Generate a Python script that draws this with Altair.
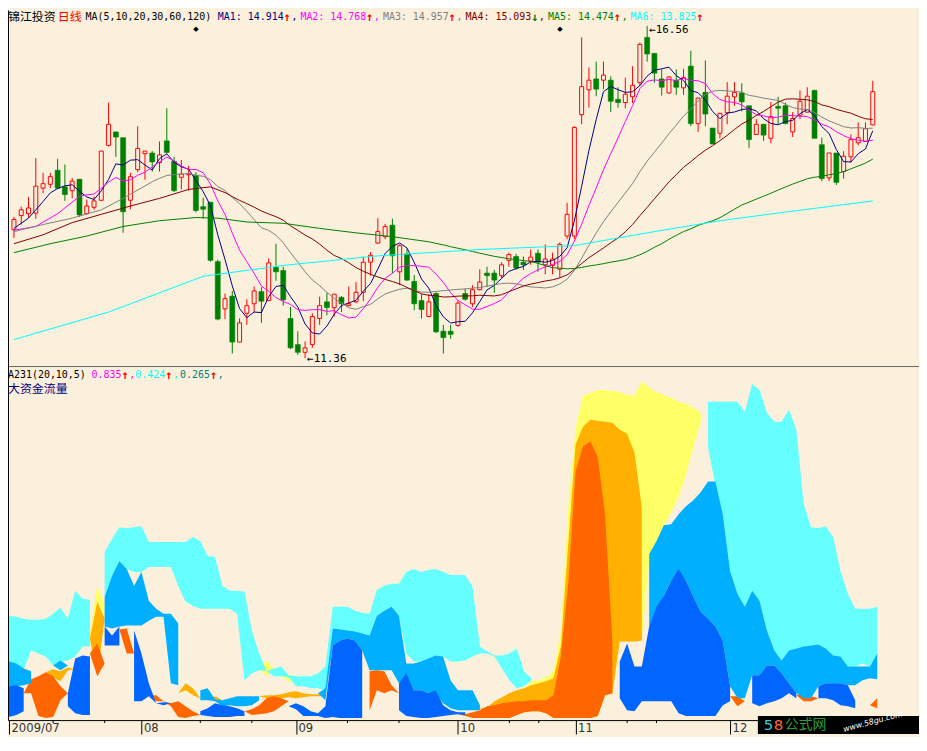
import altair as alt
import pandas as pd

BG = "#FAF0DC"
RED = "#FF0000"
GREEN = "#008000"
MONO = "DejaVu Sans Mono"
CJK = "Noto Sans CJK SC"

# ---------------- daily candles (index 0 = first visible day, 2009/07) ----------------
OPEN = [13.37, 13.59, 13.62, 13.63, 14.02, 14.08, 14.30, 14.04, 13.98, 14.16,
        13.62, 13.72, 13.83, 14.69, 14.90, 14.81, 13.83, 14.31, 14.56, 14.57,
        14.42, 14.76, 14.44, 14.19, 14.23, 14.22, 13.73, 13.80, 12.87, 12.13,
        12.33, 11.61, 12.06, 12.21, 12.40, 12.26, 12.78, 12.73, 11.98, 11.57,
        11.45, 11.57, 11.98, 12.24, 12.15, 12.31, 12.18, 12.24, 12.39, 12.86,
        13.16, 13.26, 13.44, 12.71, 12.99, 12.56, 12.26, 12.01, 12.37, 11.78,
        11.78, 11.87, 12.37, 12.21, 12.43, 12.69, 12.69, 12.65, 12.89, 12.95,
        12.86, 12.88, 13.00, 12.82, 12.81, 12.75, 13.27, 13.27, 15.17, 15.56,
        15.73, 15.71, 15.71, 15.41, 15.36, 15.45, 15.67, 16.38, 16.13, 15.73,
        15.51, 15.71, 15.59, 15.93, 15.03, 15.52, 14.96, 14.88, 15.20, 15.45,
        15.51, 15.31, 14.86, 15.02, 14.80, 15.30, 15.31, 14.90, 15.16, 15.21,
        15.55, 14.70, 14.18, 14.57, 14.28, 14.51, 14.73, 14.75, 15.01]
HIGH = [13.57, 13.73, 13.88, 14.49, 14.26, 14.26, 14.48, 14.39, 14.18, 14.16,
        13.84, 13.89, 14.60, 15.36, 14.90, 14.81, 14.26, 14.99, 14.60, 14.60,
        14.75, 15.27, 14.51, 14.46, 14.37, 14.27, 13.87, 13.80, 12.90, 12.37,
        12.41, 11.98, 12.28, 12.48, 12.47, 12.92, 13.15, 12.79, 12.16, 11.78,
        11.62, 12.06, 12.32, 12.38, 12.36, 12.33, 12.48, 12.55, 12.95, 13.02,
        13.55, 13.46, 13.54, 13.14, 13.07, 12.66, 12.36, 12.36, 12.39, 11.88,
        11.88, 12.26, 12.45, 12.50, 12.75, 12.79, 12.74, 12.86, 13.01, 12.99,
        12.95, 13.06, 13.06, 13.14, 13.01, 13.17, 13.79, 14.99, 16.38, 15.91,
        16.00, 16.00, 15.77, 15.60, 15.75, 15.93, 16.30, 16.56, 16.13, 15.88,
        15.77, 15.88, 15.89, 16.17, 15.43, 16.02, 14.96, 15.20, 15.68, 15.68,
        15.66, 15.31, 15.10, 15.02, 15.37, 15.45, 15.36, 15.21, 15.55, 15.60,
        15.56, 14.81, 14.57, 14.57, 14.60, 14.86, 15.05, 15.05, 15.70]
LOW = [13.24, 13.45, 13.56, 13.54, 13.94, 14.02, 14.01, 13.82, 13.86, 13.57,
       13.61, 13.68, 13.82, 14.67, 14.51, 13.32, 13.69, 14.27, 14.15, 14.28,
       14.28, 14.56, 13.96, 14.00, 13.98, 13.64, 13.54, 12.87, 11.95, 11.97,
       11.43, 11.61, 11.88, 12.08, 11.91, 12.25, 12.57, 12.18, 11.50, 11.41,
       11.36, 11.52, 11.88, 12.03, 12.01, 12.08, 12.17, 12.22, 12.25, 12.65,
       13.15, 13.22, 12.69, 12.50, 12.57, 12.11, 11.98, 12.00, 11.75, 11.43,
       11.66, 11.85, 12.26, 12.16, 12.42, 12.47, 12.38, 12.61, 12.79, 12.74,
       12.74, 12.82, 12.71, 12.67, 12.67, 12.62, 13.22, 13.22, 15.02, 15.28,
       15.46, 15.57, 15.21, 15.28, 15.27, 15.35, 15.62, 16.00, 15.67, 15.47,
       15.50, 15.48, 15.48, 14.99, 14.90, 14.99, 14.71, 14.80, 15.02, 15.31,
       15.22, 14.65, 14.86, 14.76, 14.72, 15.02, 15.02, 14.82, 15.10, 15.20,
       14.80, 14.13, 14.13, 14.07, 14.17, 14.42, 14.69, 14.75, 15.00]
CLOSE = [13.53, 13.68, 13.71, 14.05, 14.09, 14.20, 14.02, 13.92, 14.13, 13.60,
         13.74, 13.82, 14.60, 15.02, 14.82, 13.65, 14.20, 14.64, 14.60, 14.43,
         14.54, 14.58, 13.98, 14.24, 14.24, 13.67, 13.69, 12.89, 11.97, 12.29,
         11.61, 11.91, 12.18, 12.41, 12.25, 12.85, 12.71, 12.27, 11.52, 11.45,
         11.52, 12.01, 12.18, 12.15, 12.36, 12.21, 12.21, 12.39, 12.86, 12.97,
         13.34, 13.42, 12.96, 13.12, 12.58, 12.21, 12.12, 12.24, 11.77, 11.68,
         11.73, 12.22, 12.28, 12.43, 12.55, 12.65, 12.58, 12.82, 12.98, 12.77,
         12.82, 12.94, 12.86, 12.91, 12.91, 13.14, 13.61, 14.97, 15.61, 15.71,
         15.57, 15.79, 15.38, 15.36, 15.49, 15.63, 16.27, 16.12, 15.82, 15.60,
         15.76, 15.60, 15.75, 15.03, 15.43, 15.18, 14.71, 15.19, 15.46, 15.52,
         15.37, 14.78, 15.02, 14.85, 15.14, 15.27, 15.03, 15.11, 15.38, 15.46,
         14.80, 14.17, 14.57, 14.11, 14.52, 14.78, 14.81, 14.95, 15.53]
N = len(CLOSE)

MA5_EARLY_I, MA5_EARLY_V = [0, 2, 4], [13.39, 13.55, 13.81]
MA10_EARLY_I, MA10_EARLY_V = [0, 3, 6, 9], [13.36, 13.42, 13.62, 13.89]
MA20_EARLY_I, MA20_EARLY_V = [0, 4, 8, 12, 15, 19], [13.34, 13.45, 13.55, 13.68, 13.86, 14.12]
MA30_EARLY_I = [0, 4, 8, 12, 16, 20, 24, 27, 29]
MA30_EARLY_V = [13.15, 13.29, 13.48, 13.61, 13.74, 13.86, 14.00, 14.04, 13.95]
MA60_EARLY_I = [0, 5, 10, 15, 20, 25, 28, 32, 37, 42, 47, 52, 57, 59]
MA60_EARLY_V = [13.01, 13.15, 13.27, 13.42, 13.51, 13.56, 13.55, 13.49, 13.47, 13.39,
                13.32, 13.26, 13.18, 13.13]
MA120_I = [0, 13, 26, 37, 50, 64, 77, 87, 97, 107, 118]
MA120_V = [11.65, 12.08, 12.64, 12.81, 12.96, 13.06, 13.12, 13.32, 13.51, 13.66, 13.82]

EVENT_I = [25, 75]
MONTH_I = [0, 18, 39, 61, 77, 98]
MONTH_LABELS = ["2009/07", "08", "09", "10", "11", "12"]
MINOR_I = [6, 13, 26, 33, 46, 53, 68, 72, 84, 88, 105, 112]

# ---------------- fund-flow bands: (day, upper, lower) ----------------
YELLOW = [(11, 93, 93), (12, 141, 50), (13, 123, 123), (34, 58, 58), (35, 66, 50), (36, 57, 57),
          (37, 50, 50), (38, 52, 45), (39, 43, 43), (70, 38, 38), (71, 45, 15), (72, 46, 15),
          (73, 49, 13), (74, 55, 8), (75, 95, 8), (76, 220, 8), (77, 300, 8), (78, 332, 8),
          (79, 335, 8), (80, 338, 10), (81, 338, 31), (82, 337, 33), (83, 336, 85), (84, 333, 85),
          (85, 332, 85), (86, 347, 86), (87, 340, 166), (88, 336, 186), (89, 333, 202),
          (90, 330, 215), (91, 326, 230), (92, 324, 253), (93, 320, 280), (94, 315, 306)]
ORANGE = [(5, 54, 54), (6, 57, 49), (7, 55, 45), (8, 59, 56), (9, 57, 57), (11, 88, 88),
          (12, 125, 50), (13, 108, 108), (23, 33, 33), (24, 43, 36), (25, 38, 31), (26, 28, 28),
          (27, 27, 27), (28, 30, 26), (29, 26, 26), (34, 30, 30), (35, 31, 28), (36, 31, 28),
          (37, 32, 28), (38, 34, 29), (39, 35, 28), (40, 33, 29), (41, 32, 30), (42, 32, 30),
          (43, 30, 30), (64, 18, 18), (65, 19, 8), (66, 25, 8), (67, 29, 8), (68, 33, 8),
          (69, 36, 11), (70, 38, 14), (71, 41, 15), (72, 43, 15), (73, 45, 13), (74, 48, 8),
          (75, 80, 8), (76, 183, 8), (77, 283, 8), (78, 301, 8), (79, 308, 8), (80, 307, 10),
          (81, 306, 31), (82, 305, 33), (83, 298, 85), (84, 294, 85), (85, 275, 85), (86, 220, 86)]
ORANGE_RED = [(2, 33, 33), (3, 47, 33), (4, 50, 10), (5, 54, 8), (6, 50, 9), (7, 40, 26),
              (8, 33, 33), (11, 73, 73), (12, 83, 50), (13, 63, 63), (15, 97, 97), (16, 98, 73),
              (17, 73, 73), (19, 31, 31), (20, 31, 25), (21, 25, 25), (22, 23, 20), (23, 25, 9),
              (24, 20, 8), (25, 15, 10), (26, 11, 11), (32, 15, 15), (33, 17, 11), (34, 21, 12),
              (35, 28, 13), (36, 30, 15), (37, 28, 20), (38, 25, 25), (49, 55, 16), (50, 56, 36),
              (51, 55, 33), (52, 41, 36), (53, 33, 33), (61, 12, 12), (62, 12, 10), (63, 14, 8),
              (64, 16, 8), (65, 20, 8), (66, 21, 8), (67, 23, 8), (68, 24, 8), (69, 25, 11),
              (70, 25, 14), (71, 26, 15), (72, 26, 15), (73, 26, 13), (74, 31, 8), (75, 70, 8),
              (76, 143, 8), (77, 256, 8), (78, 281, 8), (79, 286, 8), (80, 271, 10), (81, 213, 31),
              (82, 86, 33), (98, 30, 30), (99, 30, 20), (100, 25, 25), (107, 31, 31),
              (108, 33, 25), (109, 30, 25), (110, 28, 28), (117, 21, 21), (118, 28, 18)]
CYAN = [(0, 111, 63), (1, 110, 61), (2, 108, 57), (3, 107, 76), (4, 107, 73), (5, 108, 70),
        (6, 113, 61), (7, 119, 65), (8, 108, 66), (9, 136, 70), (10, 128, 80), (11, 127, 80),
        (13, 175, 130), (14, 188, 151), (15, 200, 166), (16, 199, 158), (17, 200, 155),
        (18, 201, 155), (19, 185, 160), (20, 185, 160), (21, 185, 160), (22, 185, 160),
        (23, 185, 141), (24, 185, 125), (25, 190, 121), (26, 186, 118), (27, 171, 118),
        (28, 170, 118), (29, 141, 118), (30, 136, 118), (31, 136, 113), (32, 135, 46),
        (33, 96, 53), (34, 73, 56), (35, 55, 55), (36, 58, 50), (37, 60, 50), (38, 51, 49),
        (39, 50, 40), (40, 50, 40), (41, 50, 38), (42, 53, 38), (43, 60, 36), (44, 120, 98),
        (45, 120, 96), (46, 120, 95), (47, 116, 93), (48, 114, 93), (49, 113, 91),
        (50, 137, 111), (51, 141, 116), (52, 143, 120), (53, 143, 111), (54, 155, 73),
        (55, 158, 65), (56, 155, 65), (57, 157, 66), (58, 158, 71), (59, 155, 70), (60, 152, 65),
        (61, 152, 65), (62, 152, 66), (63, 140, 70), (64, 80, 73), (65, 75, 73), (66, 71, 70),
        (67, 71, 58), (68, 73, 46), (69, 78, 38), (70, 55, 40), (71, 48, 46), (95, 326, 280),
        (96, 326, 243), (97, 326, 213), (98, 326, 156), (99, 326, 133), (100, 316, 120),
        (101, 344, 136), (102, 338, 126), (103, 315, 96), (104, 306, 76), (105, 306, 66),
        (106, 318, 76), (107, 298, 78), (108, 223, 80), (109, 200, 81), (110, 199, 82),
        (111, 201, 78), (112, 190, 71), (113, 156, 70), (114, 133, 60), (115, 118, 60),
        (116, 118, 63), (117, 118, 60), (118, 120, 73)]
MIDBLUE = [(0, 65, 40), (1, 63, 40), (2, 58, 41), (3, 55, 43), (6, 61, 61), (7, 66, 56), (8, 61, 61),
           (13, 130, 100), (14, 151, 98), (15, 166, 100), (16, 158, 101), (17, 141, 101),
           (18, 155, 101), (19, 126, 106), (20, 118, 110), (21, 113, 110), (22, 113, 43),
           (23, 103, 41), (26, 36, 26), (27, 38, 26), (28, 27, 25), (29, 26, 20), (30, 28, 21),
           (31, 30, 20), (32, 30, 20), (33, 30, 21), (34, 30, 26), (42, 33, 33), (43, 38, 26),
           (44, 98, 81), (45, 97, 86), (46, 96, 88), (47, 95, 86), (48, 93, 76), (49, 91, 56),
           (50, 111, 56), (51, 116, 56), (52, 120, 56), (53, 111, 43), (54, 63, 51), (55, 63, 36),
           (56, 65, 36), (57, 68, 33), (58, 71, 33), (59, 70, 23), (60, 46, 18), (61, 36, 16),
           (62, 36, 16), (63, 36, 16), (64, 21, 16), (87, 173, 100), (88, 186, 113),
           (89, 202, 131), (90, 203, 146), (91, 213, 156), (92, 221, 146), (93, 227, 130),
           (94, 235, 115), (95, 246, 108), (96, 246, 100), (97, 213, 86), (98, 156, 40),
           (99, 133, 28), (100, 120, 28), (101, 136, 51), (102, 126, 51), (103, 96, 61),
           (104, 76, 61), (105, 66, 53), (106, 76, 43), (107, 78, 33), (108, 80, 28),
           (109, 81, 28), (110, 82, 40), (111, 78, 43), (112, 71, 43), (113, 70, 43),
           (114, 60, 41), (115, 60, 41), (116, 60, 46), (117, 60, 48), (118, 73, 47)]
BLUE = [(0, 40, 9), (1, 41, 11), (2, 38, 15), (8, 33, 20), (9, 68, 13), (10, 71, 11), (11, 70, 11),
        (13, 100, 81), (14, 91, 81), (15, 100, 81), (17, 96, 25), (18, 73, 25), (19, 43, 30),
        (20, 23, 23), (21, 24, 21), (22, 23, 23), (26, 15, 11), (27, 18, 10), (28, 23, 9),
        (29, 21, 9), (30, 20, 9), (31, 18, 10), (32, 15, 10), (38, 20, 20), (39, 23, 17),
        (40, 20, 10), (41, 15, 10), (42, 13, 10), (43, 20, 8), (44, 81, 9), (45, 86, 8),
        (46, 88, 8), (47, 86, 8), (48, 76, 8), (53, 43, 16), (54, 53, 10), (55, 36, 9),
        (56, 36, 8), (57, 33, 8), (58, 36, 9), (59, 21, 10), (60, 16, 11), (61, 14, 12),
        (62, 14, 11), (83, 65, 28), (84, 83, 16), (85, 60, 15), (86, 60, 25), (87, 100, 25),
        (88, 120, 25), (89, 131, 25), (90, 146, 25), (91, 158, 13), (92, 146, 10), (93, 130, 10),
        (94, 115, 10), (95, 108, 10), (96, 100, 10), (97, 86, 21), (98, 40, 25), (101, 51, 23),
        (102, 51, 20), (103, 61, 23), (104, 61, 25), (105, 53, 28), (106, 43, 33), (107, 33, 28),
        (110, 40, 28), (111, 43, 28), (112, 43, 26), (113, 43, 21), (114, 41, 20), (115, 26, 18)]

LAYERS = [("yellow", "#FFFF66", YELLOW), ("orange", "#FFB000", ORANGE),
          ("orangered", "#FF6600", ORANGE_RED), ("cyan", "#66FFFF", CYAN),
          ("midblue", "#00B0FF", MIDBLUE), ("blue", "#0066FF", BLUE)]

# ---------------- layout ----------------
W = 916
H_TOP = 358
H_BOT = 356
X_DOMAIN = [-0.135, 123.67]
Y_TOP = [11.235, 16.809]
Y_BOT = [6, 362]

cdf = pd.DataFrame({"i": list(range(N)), "open": OPEN, "high": HIGH, "low": LOW, "close": CLOSE})

rows = []
for name, _, band in LAYERS:
    look = {i: (hi, lo) for i, hi, lo in band}
    for i in range(N):
        hi, lo = look.get(i, (None, None))
        rows.append({"i": i, "layer": name, "hi": hi, "lo": lo})
bdf = pd.DataFrame(rows)

ONE = pd.DataFrame({"a": [0]})
xs = alt.Scale(domain=X_DOMAIN, nice=False, zero=False)
yts = alt.Scale(domain=Y_TOP, nice=False, zero=False)
ybs = alt.Scale(domain=Y_BOT, nice=False, zero=False)

X_TOP = alt.X("i:Q", scale=xs, axis=alt.Axis(labels=False, ticks=False, domain=True,
                                              domainColor="#666666", grid=False, title=None))
Y_AX = alt.Axis(labels=False, ticks=False, domain=True, domainColor="#000000", grid=False, title=None)


def yt(field):
    return alt.Y(f"{field}:Q", scale=yts, axis=Y_AX)


def yb(field):
    return alt.Y(f"{field}:Q", scale=ybs, axis=Y_AX)


def label(s, x, y, color, font=MONO, size=10, weight="normal"):
    return alt.Chart(ONE).mark_text(text=s, align="left", baseline="middle", font=font,
                                    fontSize=size, color=color, fontWeight=weight).encode(
        x=alt.value(x), y=alt.value(y))


def arrow(s, x, y, color):
    return label(s, x, y, color, MONO, 12, "bold")


up = "datum.close >= datum.open"
wicks = alt.Chart(cdf).mark_rule(strokeWidth=1).encode(
    x=X_TOP, y=yt("low"), y2="high:Q",
    color=alt.condition(up, alt.value(RED), alt.value(GREEN)))
body_up = alt.Chart(cdf).transform_filter(up).mark_bar(
    size=4, fill=BG, stroke=RED, strokeWidth=1, orient="vertical").encode(
    x=X_TOP, y=yt("open"), y2="close:Q")
body_dn = alt.Chart(cdf).transform_filter("datum.close < datum.open").mark_bar(
    size=5, fill=GREEN, stroke=GREEN, strokeWidth=0.6, orient="vertical").encode(
    x=X_TOP, y=yt("open"), y2="close:Q")

top_layers = [wicks, body_up, body_dn]

MA_SPECS = [(5, "#000080", MA5_EARLY_I, MA5_EARLY_V), (10, "#FF00FF", MA10_EARLY_I, MA10_EARLY_V),
            (20, "#808080", MA20_EARLY_I, MA20_EARLY_V), (30, "#800000", MA30_EARLY_I, MA30_EARLY_V),
            (60, "#008000", MA60_EARLY_I, MA60_EARLY_V)]
for n, col, ei, ev in MA_SPECS:
    top_layers.append(
        alt.Chart(cdf).transform_window(
            ma="mean(close)", cnt="count()", frame=[-(n - 1), 0], sort=[alt.SortField("i")]
        ).transform_filter(f"datum.cnt >= {n}").mark_line(color=col, strokeWidth=1).encode(
            x=X_TOP, y=yt("ma")))
    top_layers.append(
        alt.Chart(pd.DataFrame({"i": ei, "ma": ev})).mark_line(color=col, strokeWidth=1).encode(
            x=X_TOP, y=yt("ma")))
top_layers.append(
    alt.Chart(pd.DataFrame({"i": MA120_I, "ma": MA120_V})).mark_line(color="#00FFFF", strokeWidth=1).encode(
        x=X_TOP, y=yt("ma")))

# highest / lowest annotations
top_layers.append(
    alt.Chart(cdf).transform_joinaggregate(mx="max(high)").transform_filter("datum.high == datum.mx")
    .transform_calculate(t="'←' + format(datum.high, '.2f')")
    .mark_text(align="left", baseline="middle", dx=2, dy=4, font=MONO, fontSize=11, color="#000000")
    .encode(x=X_TOP, y=yt("high"), text="t:N"))
top_layers.append(
    alt.Chart(cdf).transform_joinaggregate(mn="min(low)").transform_filter("datum.low == datum.mn")
    .transform_calculate(t="'←' + format(datum.low, '.2f')")
    .mark_text(align="left", baseline="middle", dx=2, dy=1, font=MONO, fontSize=11, color="#000000")
    .encode(x=X_TOP, y=yt("low"), text="t:N"))
top_layers.append(
    alt.Chart(pd.DataFrame({"i": EVENT_I})).mark_text(text="◆", font="DejaVu Sans", fontSize=7,
                                                      color="#000000", baseline="middle")
    .encode(x=X_TOP, y=alt.value(19)))

# header line of the price panel
top_layers += [label("锦江投资", 0, 7, "#000000", CJK, 12),
               label("日线", 50, 7, RED, CJK, 12),
               label("MA(5,10,20,30,60,120)", 78, 7, "#000000")]
MA_TXT = ["MA1: 14.914", "MA2: 14.768", "MA3: 14.957", "MA4: 15.093", "MA5: 14.474", "MA6: 13.825"]
MA_COL = ["#000080", "#FF00FF", "#808080", "#800000", "#008000", "#00FFFF"]
MA_ARR = ["↑", "↑", "↑", "↓", "↑", "↑"]
for k, gx in enumerate([211, 294, 377, 460, 543, 626]):
    top_layers.append(label(MA_TXT[k], gx, 7, MA_COL[k]))
    top_layers.append(arrow(MA_ARR[k], gx + 66, 7, GREEN if MA_ARR[k] == "↓" else RED))
    if k < 5:
        top_layers.append(label(",", gx + 74, 7, MA_COL[k]))

top = alt.layer(*top_layers).properties(width=W, height=H_TOP)

# ---------------- fund-flow panel ----------------
LABEL_EXPR = " : ".join(f"datum.value == {i} ? '{t}'" for i, t in zip(MONTH_I, MONTH_LABELS)) + " : ''"
X_BOT = alt.X("i:Q", scale=xs, axis=alt.Axis(
    values=MONTH_I, labelExpr=LABEL_EXPR, tickSize=14, tickColor="#000000", tickWidth=1,
    domainColor="#000000", labelAlign="left", labelBaseline="top", labelPadding=-13,
    labelOffset=2, labelFont="DejaVu Sans Condensed, DejaVu Sans", labelFontSize=13,
    labelColor="#333333", labelFlush=False, labelOverlap=False, grid=False, title=None))

bot_layers = []
for name, col, _ in LAYERS:
    bot_layers.append(
        alt.Chart(bdf).transform_filter(alt.datum.layer == name)
        .mark_area(color=col, interpolate="linear", orient="vertical", opacity=1)
        .encode(x=X_BOT, y=yb("hi"), y2="lo:Q"))
bot_layers.append(
    alt.Chart(pd.DataFrame({"i": MINOR_I})).mark_rule(color="#000000", strokeWidth=1)
    .encode(x=X_BOT, y=alt.value(H_BOT), y2=alt.value(H_BOT + 3)))

bot_layers += [label("A231(20,10,5)", 0, 9, "#000000"),
               label("0.835", 84, 9, "#FF00FF"), arrow("↑", 114, 9, RED), label(",", 122, 9, "#FF00FF"),
               label("0.424", 128, 9, "#00FFFF"), arrow("↑", 158, 9, RED), label(",", 166, 9, "#00FFFF"),
               label("0.265", 173, 9, "#008080"), arrow("↑", 203, 9, RED), label(",", 211, 9, "#008080"),
               label("大资金流量", 0, 23, "#000080", CJK, 12)]

# corner logo
bot_layers.append(alt.Chart(ONE).mark_rect(color="#000000").encode(
    x=alt.value(754), x2=alt.value(W), y=alt.value(H_BOT - 4), y2=alt.value(H_BOT + 14)))
bot_layers += [label("5", 760, H_BOT + 5, "#33CCCC", "DejaVu Sans", 15),
               label("8", 770, H_BOT + 5, "#FF6633", "DejaVu Sans", 15),
               label("公式网", 781, H_BOT + 5, "#2E9E3E", CJK, 14)]
bot_layers.append(alt.Chart(ONE).mark_text(text="www.58gu.com", align="left", baseline="middle",
                                           font="DejaVu Sans", fontSize=8, color="#FFFFFF",
                                           angle=345, fontStyle="italic")
                  .encode(x=alt.value(840), y=alt.value(H_BOT + 10)))

bottom = alt.layer(*bot_layers).properties(width=W, height=H_BOT)

chart = alt.vconcat(top, bottom, spacing=0).properties(
    background=BG, padding=0
).configure_view(stroke=None)

chart.save("out.html", embed_options={"renderer": "svg", "actions": False})
